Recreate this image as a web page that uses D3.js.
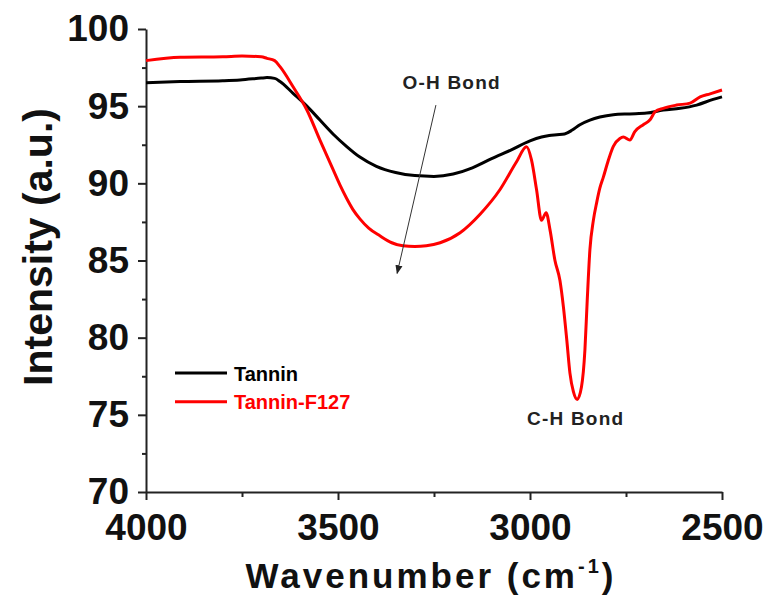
<!DOCTYPE html>
<html>
<head>
<meta charset="utf-8">
<script src="https://cdn.jsdelivr.net/npm/d3@7"></script>
<style>
    body { margin: 0; background: #fff; }
    svg { font-family: Arial, "Liberation Sans", sans-serif; font-weight: bold; }
</style>
</head>
<body>
<script>
// wavenumber (cm-1) and intensity
const tanninWn = [4000, 3911, 3800, 3755, 3700, 3685, 3665, 3651, 3617, 3581, 3547, 3513, 3478, 3443,
    3400, 3350, 3300, 3250, 3200, 3150, 3100, 3050, 3000, 2970, 2950, 2930, 2910, 2890, 2870, 2844, 2818,
    2783, 2740, 2696, 2653, 2609, 2566, 2523, 2500];
const tanninVal = [96.52, 96.6, 96.65, 96.7, 96.82, 96.85, 96.8, 96.6, 95.83, 95.0, 94.1, 93.2, 92.4, 91.7,
    91.1, 90.7, 90.5, 90.45, 90.6, 91.0, 91.6, 92.15, 92.75, 93.0, 93.1, 93.15, 93.2, 93.45, 93.8, 94.1, 94.3,
    94.45, 94.5, 94.55, 94.75, 94.86, 95.07, 95.44, 95.6];

const f127Wn = [4000, 3911, 3800, 3750, 3700, 3685, 3665, 3651, 3617, 3581, 3547, 3513, 3495, 3478, 3461,
    3443, 3420, 3391, 3360, 3331, 3300, 3270, 3234, 3182, 3130, 3078, 3035, 3009, 2996, 2983, 2970, 2958,
    2948, 2935, 2922, 2913, 2904, 2896, 2887, 2877, 2866, 2857, 2851, 2844, 2835, 2826, 2818, 2809, 2796,
    2783, 2766, 2757, 2740, 2727, 2705, 2688, 2674, 2653, 2618, 2583, 2557, 2531, 2500];
const f127Val = [97.95, 98.17, 98.2, 98.25, 98.2, 98.1, 97.95, 97.56, 96.26, 94.75, 92.8, 90.9, 89.9, 89.05, 88.3,
    87.7, 87.1, 86.6, 86.15, 85.95, 85.9, 85.95, 86.15, 86.8, 88.0, 89.6, 91.4, 92.37, 91.5, 89.6, 87.6, 88.1,
    87.0, 85.0, 83.7, 82.0, 79.8, 77.7, 76.5, 76.0, 76.8, 79.2, 82.4, 85.7, 87.6, 88.8, 89.7, 90.4, 91.5,
    92.4, 92.9, 93.0, 92.8, 93.35, 93.8, 94.1, 94.64, 94.86, 95.07, 95.2, 95.6, 95.8, 96.05];

const seriesNames = ["Tannin", "Tannin-F127"];
const seriesColors = ["#000000", "#ff0000"];

const xTicks = [4000, 3500, 3000, 2500];
const xMinorTicks = [3750, 3250, 2750];
const yTicks = [70, 75, 80, 85, 90, 95, 100];
const yMinorTicks = [72.5, 77.5, 82.5, 87.5, 92.5, 97.5];

const width = 775;
const height = 609;
const margin = { left: 146, right: 53, top: 29, bottom: 117 };
const chartwidth = width - margin.left - margin.right;
const chartheight = height - margin.top - margin.bottom;

const x = d3.scaleLinear().domain([4000, 2500]).range([0, chartwidth]);
const y = d3.scaleLinear().domain([70, 100]).range([chartheight, 0]);

const series = [
    tanninWn.map((wn, i) => ({ wn: wn, val: tanninVal[i] })),
    f127Wn.map((wn, i) => ({ wn: wn, val: f127Val[i] }))
];

const svg = d3.select("body").append("svg")
    .attr("width", width)
    .attr("height", height);

svg.append("defs").append("marker")
    .attr("id", "head")
    .attr("viewBox", "0 0 10 10")
    .attr("refX", 9)
    .attr("refY", 5)
    .attr("markerWidth", 9)
    .attr("markerHeight", 9)
    .attr("markerUnits", "userSpaceOnUse")
    .attr("orient", "auto")
    .append("path")
        .attr("d", "M0,1L10,5L0,9Z")
        .attr("fill", "#222");

const g = svg.append("g")
    .attr("transform", `translate(${[margin.left, margin.top]})`);

const styleAxis = sel => {
    sel.selectAll("path, line").attr("stroke", "#222").attr("stroke-width", 2);
    sel.selectAll("text").attr("font-size", 37).attr("font-weight", "bold").attr("fill", "#111")
        .attr("font-family", 'Arial, "Liberation Sans", sans-serif');
};

g.append("g")
    .attr("transform", `translate(0, ${chartheight})`)
    .call(d3.axisBottom(x).tickValues(xMinorTicks).tickSize(5).tickFormat(""))
    .call(sel => sel.select(".domain").remove())
    .call(styleAxis);

g.append("g")
    .call(d3.axisLeft(y).tickValues(yMinorTicks).tickSize(4).tickFormat(""))
    .call(sel => sel.select(".domain").remove())
    .call(styleAxis);

g.append("g")
    .attr("transform", `translate(0, ${chartheight})`)
    .call(d3.axisBottom(x).tickValues(xTicks).tickSize(8).tickSizeOuter(0).tickPadding(14).tickFormat(d3.format("d")))
    .call(styleAxis);

g.append("g")
    .call(d3.axisLeft(y).tickValues(yTicks).tickSize(8).tickSizeOuter(0).tickPadding(9))
    .call(styleAxis);

const line = d3.line()
    .x(d => x(d.wn))
    .y(d => y(d.val))
    .curve(d3.curveMonotoneX);

g.selectAll(".spectrum")
    .data(series)
    .join("path")
        .attr("class", "spectrum")
        .attr("fill", "none")
        .attr("stroke", (_, i) => seriesColors[i])
        .attr("stroke-width", 3)
        .attr("stroke-linejoin", "round")
        .attr("d", line);

// annotations
const arrow = [{ wn: 3245, val: 95.07 }, { wn: 3346, val: 84.17 }];
g.append("line")
    .attr("x1", x(arrow[0].wn))
    .attr("y1", y(arrow[0].val))
    .attr("x2", x(arrow[1].wn))
    .attr("y2", y(arrow[1].val))
    .attr("stroke", "#333")
    .attr("stroke-width", 1)
    .attr("marker-end", "url(#head)");

const notes = [
    { text: "O-H Bond", wn: 3204, val: 96.09 },
    { text: "C-H Bond", wn: 2881, val: 74.34 }
];
g.selectAll(".note")
    .data(notes)
    .join("text")
        .attr("class", "note")
        .attr("x", d => x(d.wn))
        .attr("y", d => y(d.val))
        .attr("text-anchor", "middle")
        .attr("font-size", 19)
        .attr("letter-spacing", 1.2)
        .attr("fill", "#222")
        .text(d => d.text);

// legend
const legend = g.selectAll(".legend")
    .data(seriesNames)
    .join("g")
        .attr("class", "legend")
        .attr("transform", (_, i) => `translate(${[29, 344 + i * 28.7]})`);

legend.append("line")
    .attr("x1", 0)
    .attr("x2", 52)
    .attr("stroke", (_, i) => seriesColors[i])
    .attr("stroke-width", 3);

legend.append("text")
    .attr("x", 59)
    .attr("y", 7.5)
    .attr("font-size", 20)
    .attr("fill", (_, i) => seriesColors[i])
    .text(d => d);

// axis titles
const xTitle = svg.append("text")
    .attr("x", 431)
    .attr("y", 588)
    .attr("text-anchor", "middle")
    .attr("font-size", 35)
    .attr("letter-spacing", 3)
    .attr("fill", "#111");
xTitle.append("tspan").text("Wavenumber (cm");
xTitle.append("tspan").attr("dy", -15).attr("font-size", 20).text("-1");
xTitle.append("tspan").attr("dy", 15).text(")");

svg.append("text")
    .attr("transform", "translate(52, 247) rotate(-90)")
    .attr("text-anchor", "middle")
    .attr("font-size", 41)
    .attr("fill", "#111")
    .text("Intensity (a.u.)");
</script>
</body>
</html>
